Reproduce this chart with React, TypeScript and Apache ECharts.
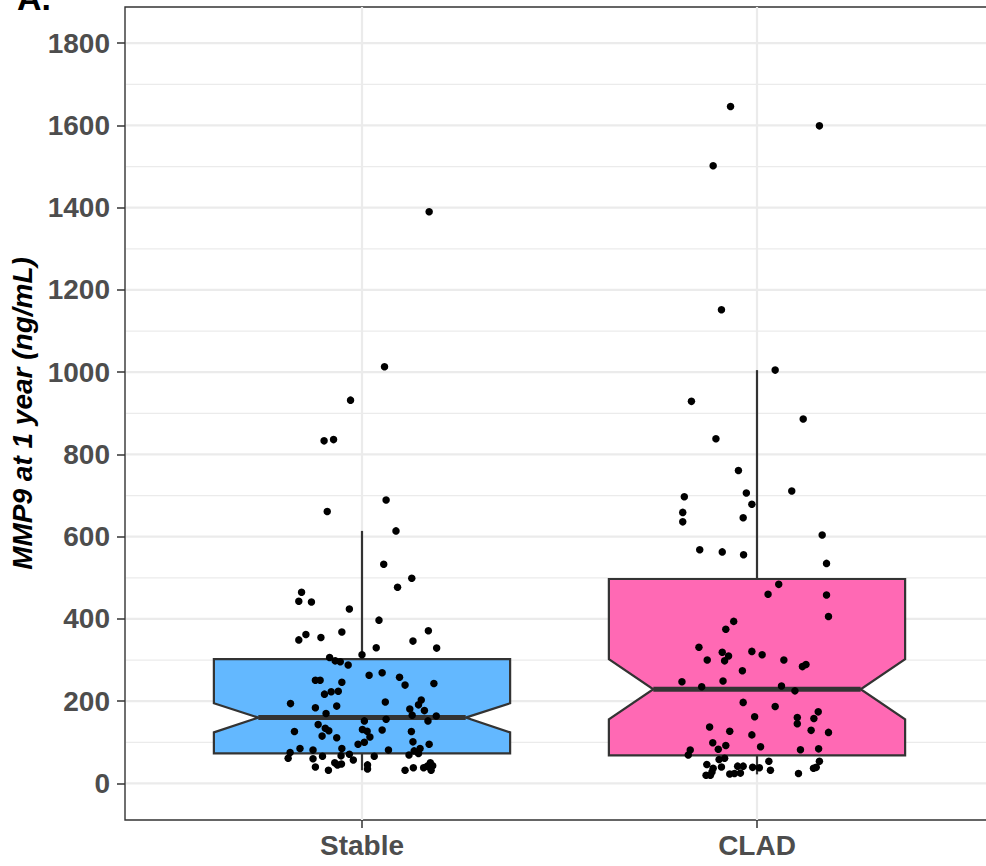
import React, { useEffect, useRef } from "react";
import * as echarts from "echarts";

const categories = ["Stable", "CLAD"];
const yTickValues = [0, 200, 400, 600, 800, 1000, 1200, 1400, 1600, 1800];
const yMinorValues = [100, 300, 500, 700, 900, 1100, 1300, 1500, 1700];
const fills = ["#63B8FF", "#FF69B4"];

// box stats: lower whisker, Q1, notch low, median, notch high, Q3, upper whisker
const stableBox = [32, 73, 124, 160, 195, 302, 614];
const cladBox = [22, 68, 156, 229, 302, 497, 1005];

const stableValues = [
  1390, 1013, 932, 833, 836,
  689, 661, 614, 533, 499, 477, 465, 443, 441, 424, 397, 371, 368, 362, 349, 355, 346, 329, 330, 313,
  306, 298, 296, 288, 263, 269, 258, 239, 243, 251, 251, 246, 217, 223, 224, 194, 184, 188, 198, 203,
  191, 181, 177, 170, 166, 164, 156, 152, 152, 126, 143, 134, 128, 115, 111, 131, 127, 113, 130, 100,
  95, 126, 101, 95, 85, 81, 85, 81, 79, 85, 75, 61, 60, 66, 67, 71, 57, 66, 69, 73,
  40, 32, 50, 45, 47, 45, 35, 32, 38, 38, 42, 50, 43, 32,
];
const stableJitter = [
  0.17, 0.057, -0.029, -0.096, -0.072,
  0.061, -0.088, 0.086, 0.055, 0.126, 0.09, -0.153, -0.16, -0.128, -0.032, 0.043, 0.168, -0.051, -0.142, -0.16, -0.104, 0.129, 0.189, 0.036, 0.0,
  -0.082, -0.068, -0.055, -0.035, 0.018, 0.051, 0.095, 0.109, 0.182, -0.118, -0.106, -0.051, -0.095, -0.078, -0.06, -0.181, -0.118, -0.064, 0.059, 0.15,
  0.143, 0.121, 0.158, -0.091, 0.127, 0.188, 0.061, 0.006, 0.167, -0.171, -0.111, -0.093, -0.084, -0.101, -0.064, 0.001, 0.013, 0.02, 0.051, 0.006,
  -0.01, 0.125, 0.129, 0.17, -0.157, -0.124, -0.051, 0.067, 0.132, 0.147, -0.182, -0.187, -0.124, -0.1, -0.053, -0.032, -0.022, 0.031, 0.119, 0.143,
  -0.118, -0.085, -0.069, -0.062, -0.052, 0.014, 0.014, 0.109, 0.13, 0.156, 0.165, 0.173, 0.179, 0.175,
];

const cladValues = [
  1646, 1599, 1502, 1152, 1005, 929, 886, 838, 761, 697, 706, 711, 679, 659, 636, 646, 604, 568, 563, 556,
  535, 484, 460, 458, 406, 394, 375, 331, 300, 319, 310, 298, 321, 313, 300, 284, 289, 274, 247, 235,
  249, 237, 225, 197, 187, 174, 162, 160, 158, 145, 137, 127, 129, 124, 118, 99, 92, 83, 89, 82,
  84, 81, 69, 58, 61, 46, 37, 40, 20, 20, 28, 23, 24, 25, 42, 42, 39, 38, 54, 32,
  24, 37, 39, 54,
];
const cladJitter = [
  -0.067, 0.158, -0.111, -0.09, 0.046, -0.166, 0.117, -0.104, -0.047, -0.184, -0.027, 0.088, -0.013, -0.188, -0.188, -0.035, 0.165, -0.145, -0.088, -0.034,
  0.176, 0.055, 0.028, 0.176, 0.181, -0.059, -0.079, -0.147, -0.126, -0.088, -0.072, -0.082, -0.013, 0.013, 0.068, 0.115, 0.124, -0.037, -0.19, -0.14,
  -0.086, 0.062, 0.096, -0.035, 0.046, 0.155, -0.006, 0.102, 0.144, 0.102, -0.12, -0.069, 0.137, 0.181, -0.013, -0.112, -0.079, -0.098, 0.009, 0.11,
  0.156, -0.169, -0.174, -0.096, -0.082, -0.127, -0.111, -0.09, -0.129, -0.118, -0.114, -0.069, -0.057, -0.042, -0.049, -0.035, -0.011, 0.006, 0.03, 0.034,
  0.105, 0.143, 0.15, 0.158,
];

const FONT = "'Liberation Sans', Arial, Helvetica, sans-serif";
const BOX_HALF = 0.375;
const NOTCH_HALF = 0.2625;
const LINE_COLOR = "#333333";

export default function App() {
  const ref = useRef<HTMLDivElement>(null);

  useEffect(() => {
    if (!ref.current) return;
    const chart = echarts.init(ref.current, null, { renderer: "svg" });

    const boxData = [
      [0, ...stableBox],
      [1, ...cladBox],
    ];
    const pointData = [
      ...stableValues.map((v, i) => [0 + stableJitter[i], v]),
      ...cladValues.map((v, i) => [1 + cladJitter[i], v]),
    ];

    const hGrid = (lw: number) => (params: any, api: any) => {
      const cs = params.coordSys;
      const y = api.coord([0, api.value(1)])[1];
      return {
        type: "line",
        shape: { x1: cs.x + 1, y1: y, x2: cs.x + cs.width, y2: y },
        style: { stroke: "#EBEBEB", lineWidth: lw },
        silent: true,
      };
    };

    const option: any = {
      animation: false,
      backgroundColor: "#ffffff",
      grid: {
        left: 125,
        top: 7,
        width: 869,
        height: 813,
        show: true,
        borderColor: LINE_COLOR,
        borderWidth: 1.4,
        backgroundColor: "transparent",
        containLabel: false,
        outerBoundsMode: "none",
      },
      xAxis: {
        type: "value",
        min: -0.6,
        max: 1.6,
        axisLine: { show: false, onZero: false },
        splitLine: { show: false },
        axisTick: {
          show: true,
          customValues: [0, 1],
          length: 8,
          lineStyle: { color: LINE_COLOR, width: 1.5 },
        },
        axisLabel: {
          show: true,
          customValues: [0, 1],
          formatter: (v: number) => categories[Math.round(v)] ?? "",
          margin: 11,
          fontFamily: FONT,
          fontWeight: "bold",
          fontSize: 28,
          color: "#4D4D4D",
        },
      },
      yAxis: {
        type: "value",
        min: -89,
        max: 1888,
        axisLine: { show: false, onZero: false },
        splitLine: { show: false },
        axisTick: {
          show: true,
          customValues: yTickValues,
          length: 8,
          lineStyle: { color: LINE_COLOR, width: 1.5 },
        },
        axisLabel: {
          show: true,
          customValues: yTickValues,
          formatter: (v: number) => String(v),
          margin: 15,
          fontFamily: FONT,
          fontWeight: "bold",
          fontSize: 28,
          color: "#4D4D4D",
        },
        name: "MMP9 at 1 year (ng/mL)",
        nameLocation: "middle",
        nameGap: 82,
        nameRotate: 90,
        nameTextStyle: {
          fontFamily: FONT,
          fontWeight: "bold",
          fontStyle: "italic",
          fontSize: 28,
          color: "#000000",
        },
      },
      graphic: [
        {
          type: "text",
          left: 17,
          top: -19,
          style: {
            text: "A.",
            fontFamily: FONT,
            fontWeight: "bold",
            fontSize: 34,
            fill: "#000000",
          },
        },
      ],
      series: [
        {
          type: "custom",
          name: "minorGrid",
          silent: true,
          z: 0,
          data: yMinorValues.map((v) => [0, v]),
          encode: { x: 0, y: 1 },
          renderItem: hGrid(1.3),
        },
        {
          type: "custom",
          name: "majorGrid",
          silent: true,
          z: 0,
          data: yTickValues.map((v) => [0, v]),
          encode: { x: 0, y: 1 },
          renderItem: hGrid(2.2),
        },
        {
          type: "custom",
          name: "xGrid",
          silent: true,
          z: 0,
          data: categories.map((_, i) => [i, 0]),
          encode: { x: 0, y: 1 },
          renderItem: (params: any, api: any) => {
            const cs = params.coordSys;
            const x = api.coord([api.value(0), 0])[0];
            return {
              type: "line",
              shape: { x1: x, y1: cs.y, x2: x, y2: cs.y + cs.height },
              style: { stroke: "#EBEBEB", lineWidth: 2.2 },
            };
          },
        },
        {
          type: "custom",
          name: "boxes",
          silent: true,
          z: 2,
          data: boxData,
          encode: { x: 0, y: [1, 2, 3, 4, 5, 6, 7] },
          renderItem: (params: any, api: any) => {
            const c = api.value(0);
            const lw = api.value(1);
            const q1 = api.value(2);
            const nlo = api.value(3);
            const med = api.value(4);
            const nhi = api.value(5);
            const q3 = api.value(6);
            const uw = api.value(7);
            const P = (dx: number, v: number) => api.coord([c + dx, v]);
            const poly = [
              P(-BOX_HALF, q3),
              P(BOX_HALF, q3),
              P(BOX_HALF, nhi),
              P(NOTCH_HALF, med),
              P(BOX_HALF, nlo),
              P(BOX_HALF, q1),
              P(-BOX_HALF, q1),
              P(-BOX_HALF, nlo),
              P(-NOTCH_HALF, med),
              P(-BOX_HALF, nhi),
            ];
            const top = P(0, uw);
            const q3p = P(0, q3);
            const bot = P(0, lw);
            const q1p = P(0, q1);
            const mL = P(-NOTCH_HALF, med);
            const mR = P(NOTCH_HALF, med);
            return {
              type: "group",
              children: [
                {
                  type: "line",
                  shape: { x1: top[0], y1: top[1], x2: q3p[0], y2: q3p[1] },
                  style: { stroke: LINE_COLOR, lineWidth: 2.2 },
                },
                {
                  type: "line",
                  shape: { x1: bot[0], y1: bot[1], x2: q1p[0], y2: q1p[1] },
                  style: { stroke: LINE_COLOR, lineWidth: 2.2 },
                },
                {
                  type: "polygon",
                  shape: { points: poly },
                  style: {
                    fill: fills[params.dataIndex],
                    stroke: LINE_COLOR,
                    lineWidth: 2.2,
                    lineJoin: "miter",
                  },
                },
                {
                  type: "line",
                  shape: { x1: mL[0], y1: mL[1], x2: mR[0], y2: mR[1] },
                  style: { stroke: LINE_COLOR, lineWidth: 5 },
                },
              ],
            };
          },
        },
        {
          type: "scatter",
          name: "points",
          z: 5,
          silent: true,
          symbol: "circle",
          symbolSize: 7.5,
          itemStyle: { color: "#000000", opacity: 1 },
          data: pointData,
        },
      ],
    };

    chart.setOption(option);
    return () => chart.dispose();
  }, []);

  return (
    <div
      ref={ref}
      style={{ position: "fixed", left: 0, top: 0, width: 986, height: 866, background: "#fff" }}
    />
  );
}
